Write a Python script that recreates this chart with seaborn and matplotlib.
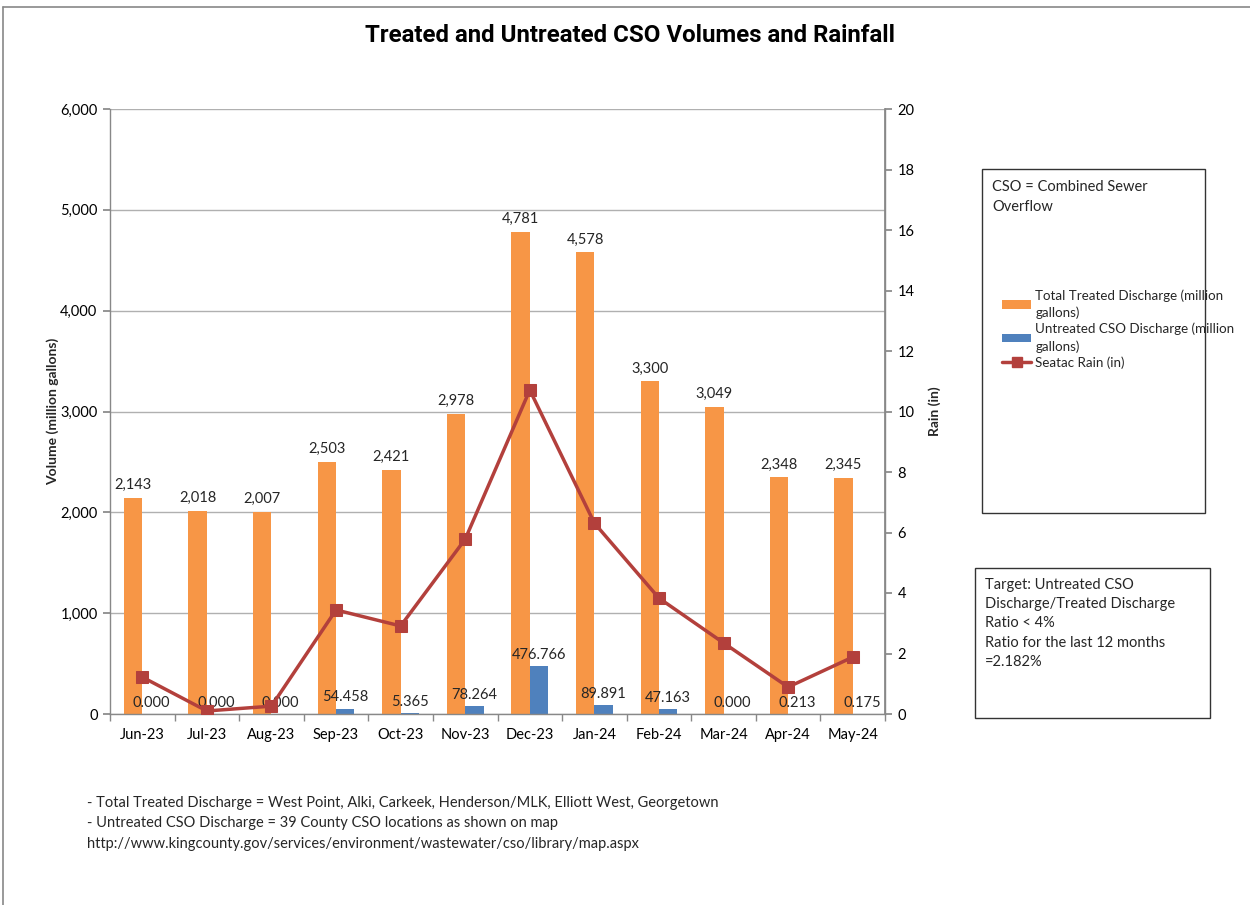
import matplotlib
matplotlib.use("Agg")
import matplotlib.pyplot as plt
from matplotlib.patches import Patch, Rectangle
from matplotlib.lines import Line2D
from matplotlib.ticker import FuncFormatter, MultipleLocator
import numpy as np
import pandas as pd
import seaborn as sns

months = ["Jun-23", "Jul-23", "Aug-23", "Sep-23", "Oct-23", "Nov-23",
          "Dec-23", "Jan-24", "Feb-24", "Mar-24", "Apr-24", "May-24"]
treated = [2143, 2018, 2007, 2503, 2421, 2978, 4781, 4578, 3300, 3049, 2348, 2345]
untreated = [0.000, 0.000, 0.000, 54.458, 5.365, 78.264, 476.766, 89.891, 47.163, 0.000, 0.213, 0.175]
rain = [1.22, 0.10, 0.26, 3.44, 2.91, 5.78, 10.71, 6.31, 3.83, 2.35, 0.89, 1.88]

s_treated = "Total Treated Discharge (million gallons)"
s_untreated = "Untreated CSO Discharge (million gallons)"
s_rain = "Seatac Rain (in)"

ORANGE = "#F79646"
BLUE = "#4F81BD"
RED = "#B3403C"
GRID = "#B0B0B0"

sns.set_theme(style="white")
plt.rcParams["font.family"] = ["Lato", "DejaVu Sans"]
plt.rcParams["axes.unicode_minus"] = False

df = pd.DataFrame({
    "month": months * 2,
    "series": [s_treated] * len(months) + [s_untreated] * len(months),
    "value": treated + untreated,
})

W, H = 1250, 905
fig = plt.figure(figsize=(W / 100, H / 100), dpi=100)
ax = fig.add_axes([110 / W, 1 - 714 / H, (885 - 110) / W, (714 - 109) / H])

sns.barplot(data=df, x="month", y="value", hue="series", order=months,
            hue_order=[s_treated, s_untreated],
            palette={s_treated: ORANGE, s_untreated: BLUE},
            width=0.57, gap=0, saturation=1, edgecolor="none", linewidth=0,
            errorbar=None, legend=False, ax=ax)

ax.set_ylim(0, 6000)
ax.set_xlim(-0.5, len(months) - 0.5)
ax.yaxis.set_major_locator(MultipleLocator(1000))
ax.yaxis.set_major_formatter(FuncFormatter(lambda v, p: f"{v:,.0f}"))
ax.grid(axis="y", color=GRID, linewidth=1)
ax.set_axisbelow(True)
ax.set_xlabel("")
ax.set_ylabel("Volume (million gallons)", fontsize=10, fontweight="bold", labelpad=1)

ax.spines["top"].set_visible(False)
for sp in ["left", "bottom", "right"]:
    ax.spines[sp].set_color("#888888")
    ax.spines[sp].set_linewidth(1)

ax.tick_params(axis="y", which="major", length=5, color="#888888", direction="out",
               left=True, labelsize=10.5, pad=4, labelcolor="#000000")
ax.set_xticks(np.arange(len(months)))
ax.set_xticklabels(months)
ax.set_xticks(np.arange(-0.5, len(months), 1.0), minor=True)
ax.tick_params(axis="x", which="major", length=0, labelsize=10.5, pad=10, labelcolor="#000000")
ax.tick_params(axis="x", which="minor", length=5, color="#888888", direction="out", bottom=True)

# data labels
ax.bar_label(ax.containers[0], labels=[f"{v:,.0f}" for v in treated], padding=4, fontsize=10.5)
ax.bar_label(ax.containers[1], labels=[f"{v:.3f}" for v in untreated], padding=3, fontsize=10.5)

# rain line on secondary axis
ax2 = ax.twinx()
sns.lineplot(x=np.arange(len(months)), y=rain, ax=ax2, color=RED, linewidth=2.5,
             marker="s", markersize=9, markeredgecolor=RED, markerfacecolor=RED, zorder=5)
ax2.set_ylim(0, 20)
ax2.yaxis.set_major_locator(MultipleLocator(2))
ax2.set_ylabel("Rain (in)", fontsize=10, fontweight="bold", labelpad=10)
ax2.tick_params(axis="y", length=5, color="#888888", direction="out", right=True,
                labelsize=10.5, pad=4, labelcolor="#000000")
for sp in ["top", "left", "bottom"]:
    ax2.spines[sp].set_visible(False)
ax2.spines["right"].set_color("#888888")
ax2.grid(False)

# title
fig.text(630 / W, 1 - 36 / H, "Treated and Untreated CSO Volumes and Rainfall",
         ha="center", va="center", fontsize=17.3, fontweight="bold", color="#000000",
         family=["Roboto", "DejaVu Sans"])

# legend box
fig.add_artist(Rectangle((982 / W, 1 - 513 / H), (1205 - 982) / W, (513 - 169) / H,
                         transform=fig.transFigure, fill=False, edgecolor="#333333", lw=1))
fig.text(992 / W, 1 - 180 / H, "CSO = Combined Sewer\nOverflow", ha="left", va="top",
         fontsize=10.5, linespacing=1.55)

handles = [Patch(facecolor=ORANGE, edgecolor="none"),
           Patch(facecolor=BLUE, edgecolor="none"),
           Line2D([0], [0], color=RED, lw=2.5, marker="s", markersize=7)]
labels = ["Total Treated Discharge (million\ngallons)",
          "Untreated CSO Discharge (million\ngallons)",
          s_rain]
leg = fig.legend(handles, labels, loc="upper left", bbox_to_anchor=(1002 / W, 1 - 289 / H),
                 frameon=False, fontsize=9.6, handlelength=2.2, handleheight=0.6,
                 handletextpad=0.3, labelspacing=0.25, borderpad=0, borderaxespad=0)
for t in leg.get_texts():
    t.set_linespacing(1.5)

# target box
fig.add_artist(Rectangle((975 / W, 1 - 718 / H), (1210 - 975) / W, (718 - 568) / H,
                         transform=fig.transFigure, fill=False, edgecolor="#333333", lw=1))
fig.text(985 / W, 1 - 578 / H,
         "Target: Untreated CSO\nDischarge/Treated Discharge\nRatio < 4%\nRatio for the last 12 months\n=2.182%",
         ha="left", va="top", fontsize=10.5, linespacing=1.47)

# footnotes
fig.text(87 / W, 1 - 796 / H,
         "- Total Treated Discharge = West Point, Alki, Carkeek, Henderson/MLK, Elliott West, Georgetown\n"
         "- Untreated CSO Discharge = 39 County CSO locations as shown on map\n"
         "http://www.kingcounty.gov/services/environment/wastewater/cso/library/map.aspx",
         ha="left", va="top", fontsize=10.5, linespacing=1.57)

# outer chart border
fig.add_artist(Line2D([3 / W, 1.0], [1 - 7 / H, 1 - 7 / H], transform=fig.transFigure,
                      color="#888888", lw=1.2))
fig.add_artist(Line2D([3 / W, 3 / W], [0, 1 - 7 / H], transform=fig.transFigure,
                      color="#888888", lw=1.2))

fig.savefig("out.png", dpi=100)
